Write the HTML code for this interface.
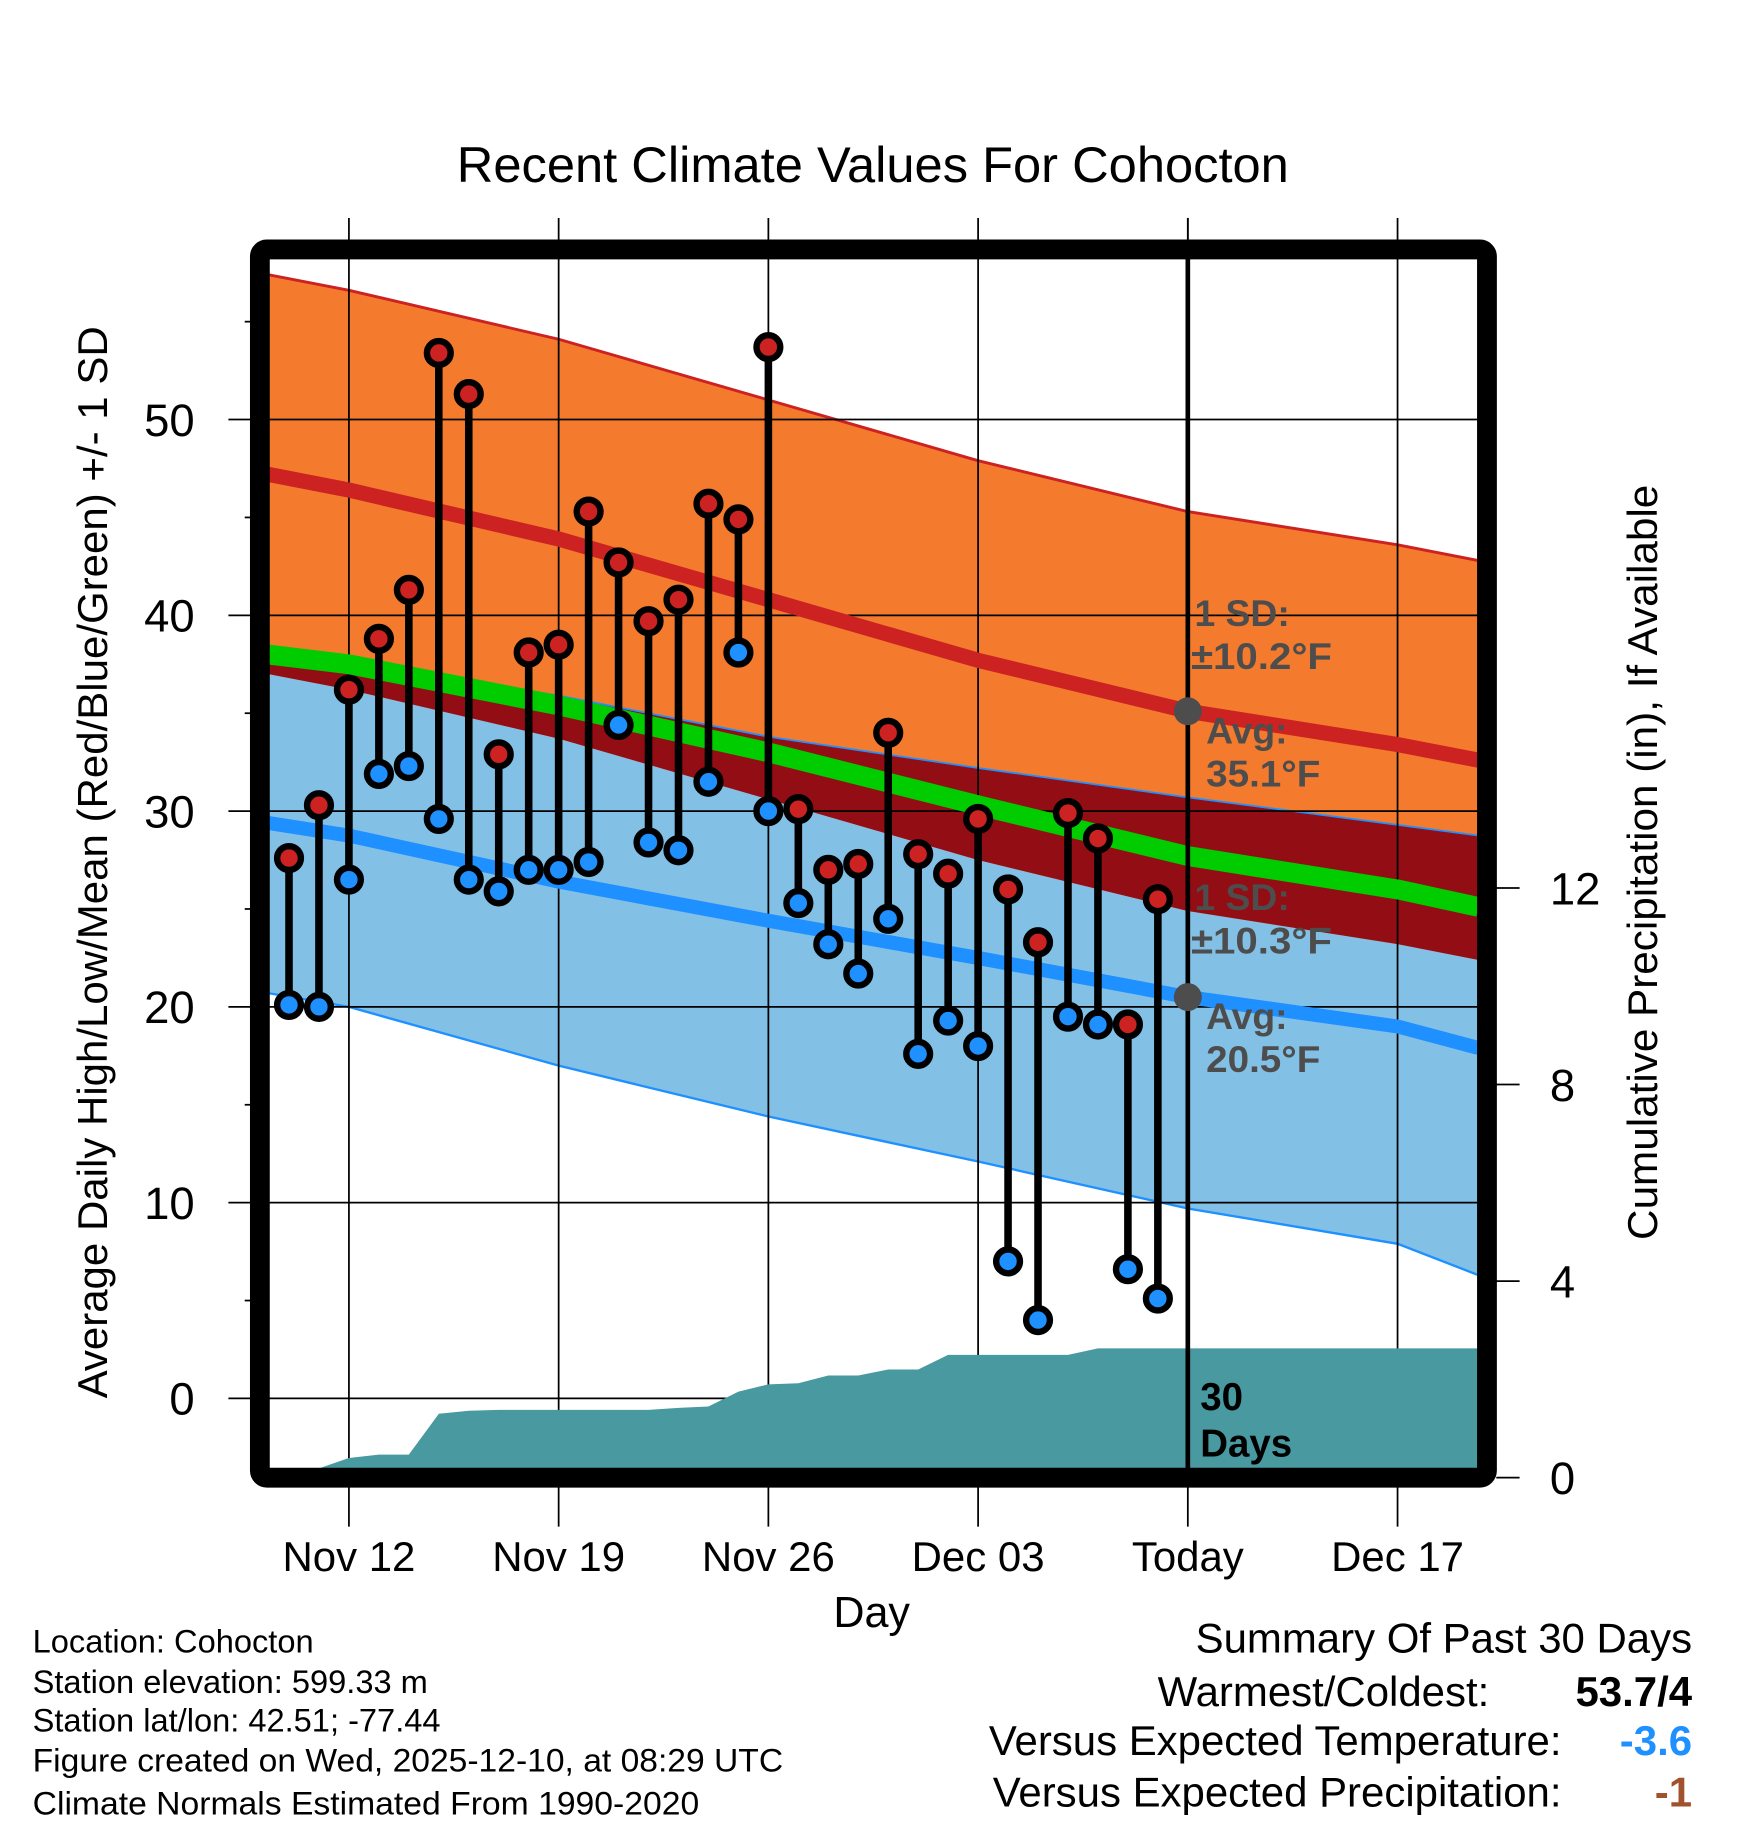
<!DOCTYPE html>
<html><head><meta charset="utf-8"><style>
html,body{margin:0;padding:0;background:#fff}
svg{display:block}
text{font-family:"Liberation Sans",Arial,sans-serif}
</style></head><body>
<svg id="chart" width="1748" height="1828" viewBox="0 0 1500 1568.6" xmlns="http://www.w3.org/2000/svg">
<g id="bands"></g><g id="grid"></g><g id="lines"></g><g id="precip"></g><g id="marks"></g><g id="frame"></g><g id="labels"></g>
</svg>
<script>
// ---- data ----
const highs=[27.6,30.3,36.2,38.8,41.3,53.4,51.3,32.9,38.1,38.5,45.3,42.7,39.7,40.8,45.7,44.9,53.7,30.1,27.0,27.3,34.0,27.8,26.8,29.6,26.0,23.3,29.9,28.6,19.1,25.5];
const lows=[20.1,20.0,26.5,31.9,32.3,29.6,26.5,25.9,27.0,27.0,27.4,34.4,28.4,28.0,31.5,38.1,30.0,25.3,23.2,21.7,24.5,17.6,19.3,18.0,7.0,4.0,19.5,19.1,6.6,5.1];
const precip=[0,0,0.4,0.47,0.47,1.3,1.36,1.38,1.38,1.38,1.38,1.38,1.38,1.42,1.45,1.75,1.9,1.92,2.08,2.08,2.2,2.2,2.5,2.5,2.5,2.5,2.5,2.63,2.63,2.63];
const normDays=[-0.7,2,9,16,23,30,37,39.7];
const highAvg=[47.2,46.4,43.9,40.8,37.7,35.1,33.4,32.6];
const highSD=10.2;
const lowAvg=[29.4,28.75,26.4,24.4,22.5,20.5,19.0,17.9];
const lowUpper=[38.3,37.6,35.9,33.8,32.2,30.7,29.3,28.75];
const lowLower=[20.7,20.0,17.0,14.4,12.1,9.7,7.9,6.3];
const meanAvg=[38.0,37.5,35.4,33.0,30.3,27.7,26.0,25.1];
const yTicks=[0,10,20,30,40,50];
const y2Ticks=[0,4,8,12];
const xTickDays=[2,9,16,23,30,37];
const xTickLabels=["Nov 12","Nov 19","Nov 26","Dec 03","Today","Dec 17"];
const todayDay=30;

// ---- axes ----
const X=d=>248+25.71*d;
const Y=v=>1200-16.8*v;
const Y2=v=>1268-42.17*v;
const L=230,R=1268,T=222,B=1260;
const NS="http://www.w3.org/2000/svg";
function mk(tag,attrs,parent){const e=document.createElementNS(NS,tag);for(const k in attrs)e.setAttribute(k,attrs[k]);parent.appendChild(e);return e;}
const g=id=>document.getElementById(id);
const pts=(arr)=>normDays.map((d,i)=>X(d).toFixed(1)+","+Y(arr[i]).toFixed(1));
const highUp=highAvg.map(v=>v+highSD), highLo=highAvg.map(v=>v-highSD);
const clip=mk('clipPath',{id:'pc'},g('chart'));mk('rect',{x:L,y:T,width:R-L,height:B-T},clip);
g('bands').setAttribute('clip-path','url(#pc)');g('lines').setAttribute('clip-path','url(#pc)');

let e;
e=mk('polygon',{points:pts(lowUpper).concat(pts(lowLower).reverse()).join(' '),fill:'#82c0e6'},g('bands'));

e=mk('polygon',{points:pts(highUp).concat(pts(highLo).reverse()).join(' '),fill:'#f47a2e'},g('bands'));

e=mk('polygon',{points:pts(lowUpper).concat(pts(highLo).reverse()).join(' '),fill:'#930d14'},g('bands'));

e=mk('polyline',{points:pts(lowUpper).join(' '),fill:'none',stroke:'#1e90ff','stroke-width':1.5},g('bands'));

e=mk('polyline',{points:pts(lowLower).join(' '),fill:'none',stroke:'#1e90ff','stroke-width':2},g('bands'));

e=mk('polyline',{points:pts(highUp).join(' '),fill:'none',stroke:'#cc2222','stroke-width':2.5},g('bands'));


// grid
yTicks.forEach(v=>{
 e=mk('line',{x1:196,x2:R,y1:Y(v),y2:Y(v),stroke:'#000','stroke-width':1.5},g('grid'));
 
 e=mk('line',{x1:210,x2:216,y1:Y(v+5),y2:Y(v+5),stroke:'#000','stroke-width':1.5},g('grid'));
 
 e=mk('text',{x:167,y:Y(v)+14,'text-anchor':'end','font-size':39},g('labels'));e.textContent=v;
 
});
xTickDays.forEach((d,i)=>{
 e=mk('line',{x1:X(d),x2:X(d),y1:187,y2:1310,stroke:'#000','stroke-width':1.5},g('grid'));
 
 e=mk('text',{x:X(d),y:1348,'text-anchor':'middle','font-size':36},g('labels'));e.textContent=xTickLabels[i];
 
});
y2Ticks.forEach(v=>{
 e=mk('line',{x1:1284,x2:1304,y1:Y2(v),y2:Y2(v),stroke:'#000','stroke-width':1.5},g('grid'));
 
 e=mk('text',{x:1330,y:Y2(v)+14,'font-size':39},g('labels'));e.textContent=v;
 
});

// avg lines
e=mk('polyline',{points:pts(highAvg).join(' '),fill:'none',stroke:'#cc2222','stroke-width':13},g('lines'));

e=mk('polyline',{points:pts(meanAvg).join(' '),fill:'none',stroke:'#00cc00','stroke-width':17},g('lines'));

e=mk('polyline',{points:pts(lowAvg).join(' '),fill:'none',stroke:'#1e90ff','stroke-width':12},g('lines'));


// precip area
let pp=[L+','+B];
precip.forEach((v,i)=>pp.push(X(i).toFixed(1)+','+Math.min(B,Y2(v)).toFixed(1)));
pp.push(R+','+Y2(precip[precip.length-1]).toFixed(1));pp.push(R+','+B);
e=mk('polygon',{points:pp.join(' '),fill:'#4899a0'},g('precip'));

e=mk('line',{x1:X(todayDay),x2:X(todayDay),y1:T,y2:B,stroke:'#000','stroke-width':4},g('precip'));


// stems
highs.forEach((h,i)=>{
 e=mk('line',{x1:X(i),x2:X(i),y1:Y(h),y2:Y(lows[i]),stroke:'#000','stroke-width':6.5},g('marks'));
 
});
highs.forEach((h,i)=>{
 e=mk('circle',{cx:X(i),cy:Y(h),r:10.2,fill:'#cc2222',stroke:'#000','stroke-width':5.5},g('marks'));
 
 e=mk('circle',{cx:X(i),cy:Y(lows[i]),r:10.2,fill:'#1e90ff',stroke:'#000','stroke-width':5.5},g('marks'));
 
});
// today markers
[highAvg[5],lowAvg[5]].forEach(v=>{
 e=mk('circle',{cx:X(todayDay),cy:Y(v),r:12,fill:'#4d4d4d'},g('marks'));
 
});
// frame
e=mk('rect',{x:223,y:214,width:1053,height:1054,rx:6,fill:'none',stroke:'#000','stroke-width':17},g('frame'));

e=mk('line',{x1:X(todayDay),x2:X(todayDay),y1:187,y2:206,stroke:'#000','stroke-width':1.5},g('frame'));
</script>
<svg style="position:absolute;left:0;top:0" width="1748" height="1828" viewBox="0 0 1500 1568.6" xmlns="http://www.w3.org/2000/svg" font-family="Liberation Sans, Arial, sans-serif">
<text x="749" y="156" text-anchor="middle" font-size="43" textLength="714" lengthAdjust="spacingAndGlyphs">Recent Climate Values For Cohocton</text>
<text transform="translate(92,740) rotate(-90)" text-anchor="middle" font-size="36" textLength="920" lengthAdjust="spacingAndGlyphs">Average Daily High/Low/Mean (Red/Blue/Green) +/- 1 SD</text>
<text transform="translate(1422,740) rotate(-90)" text-anchor="middle" font-size="36" textLength="648" lengthAdjust="spacingAndGlyphs">Cumulative Precipitation (in), If Available</text>
<text x="748" y="1396" text-anchor="middle" font-size="37">Day</text>
<g fill="#4d4d4d" font-weight="bold" font-size="32">
<text x="1025" y="537">1 SD:</text><text x="1022" y="574" textLength="121" lengthAdjust="spacingAndGlyphs">±10.2°F</text>
<text x="1035" y="638">Avg:</text><text x="1035" y="675" textLength="98" lengthAdjust="spacingAndGlyphs">35.1°F</text></g>
<g fill="#4d4d4d" font-weight="bold" font-size="32">
<text x="1025" y="781">1 SD:</text><text x="1022" y="818" textLength="121" lengthAdjust="spacingAndGlyphs">±10.3°F</text>
<text x="1035" y="883">Avg:</text><text x="1035" y="920" textLength="98" lengthAdjust="spacingAndGlyphs">20.5°F</text></g>
<g font-weight="bold" font-size="33">
<text x="1030" y="1210">30</text><text x="1030" y="1250">Days</text></g>
<g font-size="28">
<text x="28" y="1418">Location: Cohocton</text>
<text x="28" y="1453">Station elevation: 599.33 m</text>
<text x="28" y="1486">Station lat/lon: 42.51; -77.44</text>
<text x="28" y="1520" textLength="644" lengthAdjust="spacingAndGlyphs">Figure created on Wed, 2025-12-10, at 08:29 UTC</text>
<text x="28" y="1557" textLength="572" lengthAdjust="spacingAndGlyphs">Climate Normals Estimated From 1990-2020</text></g>
<g font-size="36" text-anchor="end">
<text x="1452" y="1418">Summary Of Past 30 Days</text>
<text x="1278" y="1464">Warmest/Coldest:</text>
<text x="1452" y="1464" font-weight="bold">53.7/4</text>
<text x="1340" y="1506">Versus Expected Temperature:</text>
<text x="1452" y="1506" font-weight="bold" fill="#1e90ff">-3.6</text>
<text x="1340" y="1550">Versus Expected Precipitation:</text>
<text x="1452" y="1550" font-weight="bold" fill="#a0522d">-1</text></g>
</svg>
</body></html>
